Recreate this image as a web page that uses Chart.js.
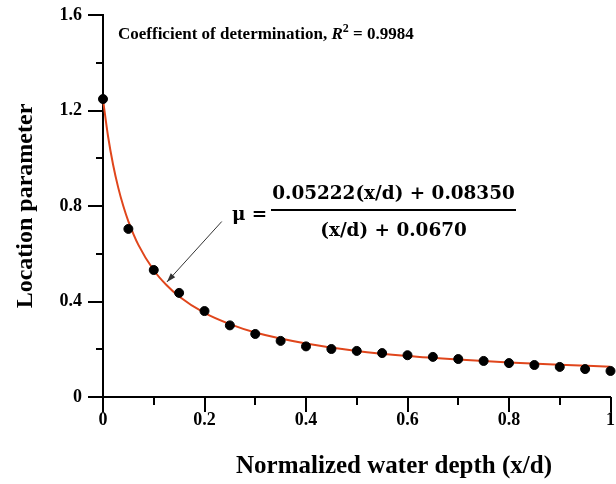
<!DOCTYPE html>
<html>
<head>
<meta charset="utf-8">
<script src="https://cdn.jsdelivr.net/npm/chart.js@4.4.1/dist/chart.umd.min.js"></script>
<style>
html,body{margin:0;padding:0;background:#fff;}
#c{display:block;}
</style>
</head>
<body>
<canvas id="c" width="616" height="484"></canvas>
<script>
const depthX = [0, 0.05, 0.1, 0.15, 0.2, 0.25, 0.3, 0.35, 0.4, 0.45, 0.5, 0.55, 0.6, 0.65, 0.7, 0.75, 0.8, 0.85, 0.9, 0.95, 1.0];
const muVals = [1.248, 0.704, 0.532, 0.436, 0.360, 0.300, 0.264, 0.235, 0.212, 0.201, 0.193, 0.184, 0.175, 0.168, 0.159, 0.151, 0.142, 0.134, 0.126, 0.117, 0.109];
// Fitted curve
const fitX = [0, 0.01, 0.02, 0.03, 0.04, 0.05, 0.07, 0.1, 0.125, 0.15, 0.2, 0.25, 0.3, 0.4, 0.5, 0.6, 0.7, 0.8, 0.9, 1.0];
const fitY = [1.246, 1.091, 0.972, 0.877, 0.800, 0.736, 0.636, 0.531, 0.469, 0.421, 0.352, 0.305, 0.270, 0.224, 0.193, 0.172, 0.157, 0.145, 0.135, 0.127];
// Tick values
const xTicks = [0, 0.2, 0.4, 0.6, 0.8, 1];
const xMinorTicks = [0.1, 0.3, 0.5, 0.7, 0.9];
const yTicks = [0, 0.4, 0.8, 1.2, 1.6];
const yMinorTicks = [0.2, 0.6, 1.0, 1.4];
// Texts
const xTitle = 'Normalized water depth (x/d)';
const yTitle = 'Location parameter';
const fitNumerator = '0.05222(x/d) + 0.08350';
const fitDenominator = '(x/d) + 0.0670';
const r2Value = '0.9984';

const SERIF = '"Liberation Serif", "Times New Roman", serif';
const MATH = '"DejaVu Serif", "Liberation Serif", serif';

const tickMarks = {
  id: 'tickMarks',
  afterDraw(chart) {
    const ctx = chart.ctx, xs = chart.scales.x, ys = chart.scales.y;
    const ca = chart.chartArea;
    ctx.save();
    ctx.strokeStyle = '#000';
    ctx.lineWidth = 2;
    ctx.beginPath();
    xTicks.forEach(v => { const p = Math.round(xs.getPixelForValue(v)); ctx.moveTo(p, ca.bottom); ctx.lineTo(p, ca.bottom + 15); });
    xMinorTicks.forEach(v => { const p = Math.round(xs.getPixelForValue(v)); ctx.moveTo(p, ca.bottom); ctx.lineTo(p, ca.bottom + 8); });
    yTicks.forEach(v => { const p = Math.round(ys.getPixelForValue(v)); ctx.moveTo(ca.left, p); ctx.lineTo(ca.left - 15, p); });
    yMinorTicks.forEach(v => { const p = Math.round(ys.getPixelForValue(v)); ctx.moveTo(ca.left, p); ctx.lineTo(ca.left - 7, p); });
    ctx.stroke();
    ctx.restore();
  }
};

const annotations = {
  id: 'annotations',
  afterDraw(chart) {
    const ctx = chart.ctx, xs = chart.scales.x, ys = chart.scales.y;
    ctx.save();
    ctx.fillStyle = '#000';
    ctx.textBaseline = 'alphabetic';
    // R^2 text
    let x = 118, y = 39;
    const parts = [
      ['bold 17px ' + SERIF, 'Coefficient of determination, ', 0],
      ['italic bold 17px ' + SERIF, 'R', 0],
      ['bold 12px ' + SERIF, '2', -7],
      ['bold 17px ' + SERIF, ' = ' + r2Value, 0]
    ];
    parts.forEach(p => { ctx.font = p[0]; ctx.fillText(p[1], x, y + p[2]); x += ctx.measureText(p[1]).width; });

    // Formula: fit numerator width to the fraction bar
    const barL = 271, barR = 516;
    let fs = 20;
    ctx.font = 'bold ' + fs + 'px ' + MATH;
    fs = fs * (barR - barL - 2) / ctx.measureText(fitNumerator).width;
    ctx.font = 'bold ' + fs.toFixed(1) + 'px ' + MATH;
    ctx.textAlign = 'center';
    const cx = (barL + barR) / 2;
    ctx.fillText(fitNumerator, cx, 199);
    ctx.fillText(fitDenominator, cx, 236);
    ctx.fillRect(barL, 209, barR - barL, 2);
    ctx.textAlign = 'left';
    ctx.fillText('\u03bc =', 232, 220);

    // X axis title
    ctx.font = 'bold 25px ' + SERIF;
    ctx.textAlign = 'center';
    ctx.textBaseline = 'middle';
    ctx.fillText(xTitle, 394, 467);

    // Arrow
    const x1 = xs.getPixelForValue(0.234), y1 = ys.getPixelForValue(0.735);
    const x2 = xs.getPixelForValue(0.126), y2 = ys.getPixelForValue(0.482);
    ctx.strokeStyle = '#333';
    ctx.fillStyle = '#333';
    ctx.lineWidth = 1;
    ctx.beginPath(); ctx.moveTo(x1, y1); ctx.lineTo(x2, y2); ctx.stroke();
    const ang = Math.atan2(y2 - y1, x2 - x1);
    const L = 9, W = 3;
    ctx.beginPath();
    ctx.moveTo(x2, y2);
    ctx.lineTo(x2 - L * Math.cos(ang) + W * Math.sin(ang), y2 - L * Math.sin(ang) - W * Math.cos(ang));
    ctx.lineTo(x2 - L * Math.cos(ang) - W * Math.sin(ang), y2 - L * Math.sin(ang) + W * Math.cos(ang));
    ctx.closePath(); ctx.fill();
    ctx.restore();
  }
};

function fmt(v) {
  const r = Math.round(v * 10) / 10;
  return (r === 0 || r === 1) ? String(r) : r.toFixed(1);
}

new Chart(document.getElementById('c'), {
  type: 'scatter',
  data: {
    datasets: [
      {
        label: 'Measured',
        data: depthX.map((v, i) => ({ x: v, y: muVals[i] })),
        backgroundColor: '#000',
        borderColor: '#000',
        pointRadius: 4.5,
        pointHoverRadius: 4.5,
        showLine: false,
        clip: false
      },
      {
        label: 'Fit',
        data: fitX.map((v, i) => ({ x: v, y: fitY[i] })),
        showLine: true,
        borderColor: '#E0461C',
        borderWidth: 2,
        pointRadius: 0,
        cubicInterpolationMode: 'monotone',
        fill: false,
        clip: false
      }
    ]
  },
  options: {
    responsive: false,
    animation: false,
    events: [],
    layout: { padding: { top: 15, right: 4, left: 0, bottom: 0 } },
    plugins: { legend: { display: false }, tooltip: { enabled: false } },
    scales: {
      x: {
        type: 'linear', min: 0, max: 1,
        afterBuildTicks(s) { s.ticks = xTicks.map(v => ({ value: v })); },
        afterFit(s) { s.height = 87; s.paddingLeft = 0; s.paddingRight = 0; },
        grid: { display: false, drawTicks: false },
        border: { display: true, color: '#000', width: 2 },
        ticks: { color: '#000', padding: 13, maxRotation: 0, font: { family: SERIF, size: 18, weight: 'bold' }, callback: v => fmt(v) },
        title: { display: false, text: xTitle }
      },
      y: {
        type: 'linear', min: 0, max: 1.6,
        afterBuildTicks(s) { s.ticks = yTicks.map(v => ({ value: v })); },
        afterFit(s) { s.width = 103; s.paddingTop = 0; s.paddingBottom = 0; },
        grid: { display: false, drawTicks: false },
        border: { display: true, color: '#000', width: 2 },
        ticks: { color: '#000', padding: 21, font: { family: SERIF, size: 18, weight: 'bold' }, callback: v => fmt(v) },
        title: { display: true, text: yTitle, color: '#000', padding: { top: 11, bottom: 0 }, font: { family: SERIF, size: 24, weight: 'bold' } }
      }
    }
  },
  plugins: [tickMarks, annotations]
});
</script>
</body>
</html>
